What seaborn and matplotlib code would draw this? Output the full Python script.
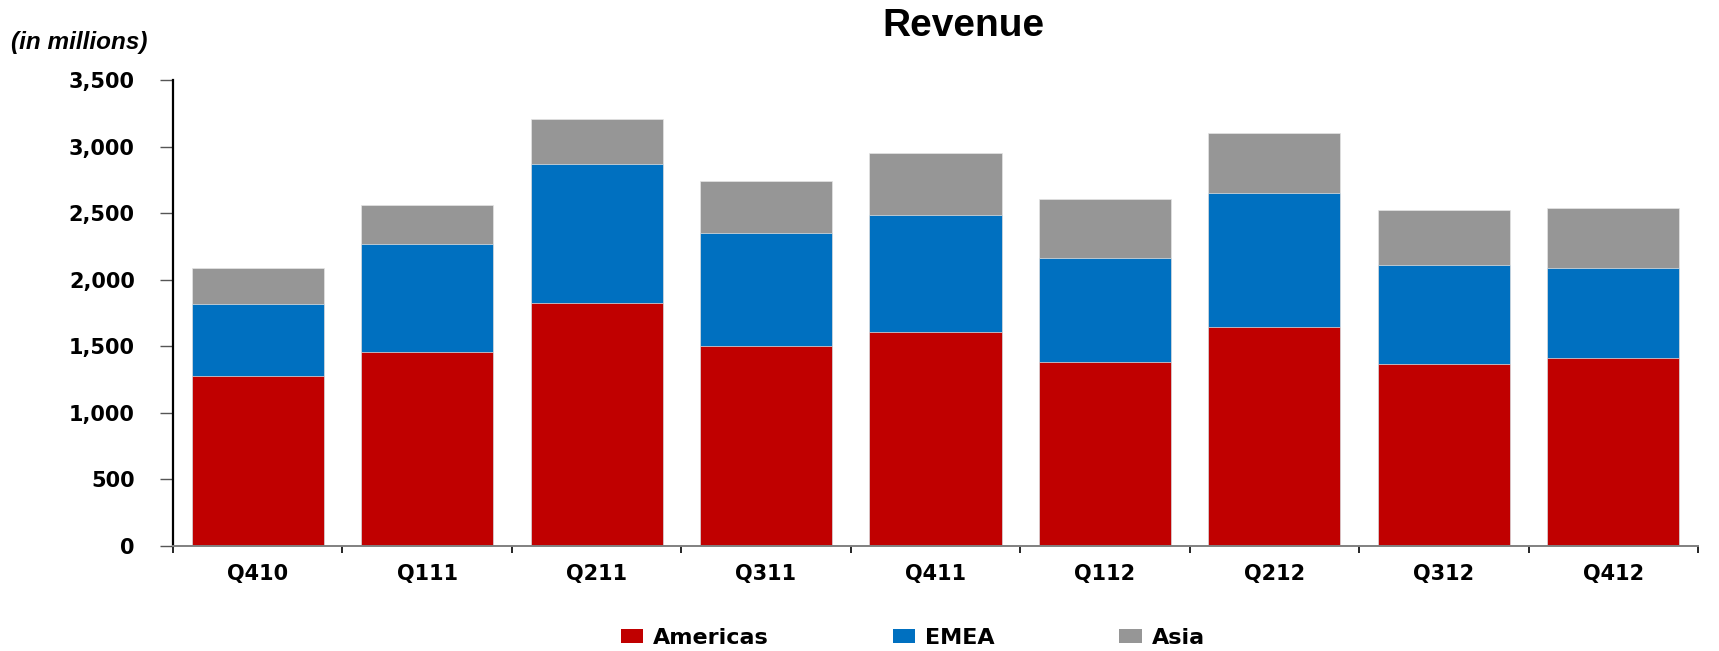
import numpy as np
import pandas as pd
import matplotlib
matplotlib.use("Agg")
import matplotlib.pyplot as plt
from matplotlib.patches import Patch
from matplotlib.ticker import FuncFormatter, FixedLocator
import seaborn as sns

quarters = ["Q410", "Q111", "Q211", "Q311", "Q411", "Q112", "Q212", "Q312", "Q412"]
americas = [1279, 1455, 1823, 1505, 1610, 1385, 1643, 1370, 1415]
emea = [539, 812, 1045, 849, 879, 781, 1011, 743, 676]
asia = [268, 295, 338, 391, 466, 441, 447, 409, 451]
series_names = ["Americas", "EMEA", "Asia"]
colors = ["#C00000", "#0070C0", "#969696"]
yticks = [0, 500, 1000, 1500, 2000, 2500, 3000, 3500]

sns.set_theme(style="white")
plt.rcParams["font.family"] = ["DejaVu Sans"]
plt.rcParams["text.color"] = "black"
plt.rcParams["xtick.color"] = "black"
plt.rcParams["ytick.color"] = "black"

df = pd.DataFrame({"quarter": quarters, "Americas": americas, "EMEA": emea, "Asia": asia})
df["lvl1"] = df["Americas"]
df["lvl2"] = df["Americas"] + df["EMEA"]
df["lvl3"] = df["lvl2"] + df["Asia"]

fig = plt.figure(figsize=(17.19, 6.51), dpi=100)
ax = fig.add_axes([173 / 1719, 1 - 546 / 651, (1698 - 173) / 1719, (546 - 80) / 651])

edge = "#e4e4e4"
sns.barplot(data=df, x="quarter", y="lvl3", color=colors[2], saturation=1, width=0.78,
            edgecolor=edge, linewidth=0.5, ax=ax)
sns.barplot(data=df, x="quarter", y="lvl2", color=colors[1], saturation=1, width=0.78,
            edgecolor=edge, linewidth=0.5, ax=ax)
sns.barplot(data=df, x="quarter", y="lvl1", color=colors[0], saturation=1, width=0.78,
            edgecolor=edge, linewidth=0.5, ax=ax)

ax.set_xlim(-0.5, len(quarters) - 0.5)
ax.set_ylim(0, 3500)
ax.set_xlabel("")
ax.set_ylabel("")

ax.yaxis.set_major_locator(FixedLocator(yticks))
ax.yaxis.set_major_formatter(FuncFormatter(lambda v, p: f"{int(v):,}"))

# x ticks at category boundaries
ax.set_xticks(np.arange(len(quarters)))
ax.set_xticklabels(quarters)
ax.set_xticks(np.arange(-0.5, len(quarters) + 0.5, 1), minor=True)
ax.tick_params(axis="x", which="both", bottom=True)
ax.tick_params(axis="x", which="major", length=0, pad=13)
ax.tick_params(axis="x", which="minor", length=5, width=1.2, color="black", direction="out")
ax.tick_params(axis="y", which="major", left=True, length=9.5, width=1.0, color="#555555",
               direction="out", pad=18)

for lab in ax.get_xticklabels() + ax.get_yticklabels():
    lab.set_fontsize(15)
    lab.set_fontweight("bold")
    lab.set_color("black")

for s in ["top", "right"]:
    ax.spines[s].set_visible(False)
ax.spines["left"].set_color("black")
ax.spines["left"].set_linewidth(1.6)
ax.spines["bottom"].set_color("#808080")
ax.spines["bottom"].set_linewidth(1.4)
ax.spines["left"].set_zorder(5)
ax.spines["bottom"].set_zorder(5)
ax.grid(False)

fig.text(963 / 1719, 1 - 26 / 651, "Revenue", ha="center", va="center", color="black",
         fontsize=28, fontweight="bold", family=["Liberation Sans", "DejaVu Sans"])
fig.text(11 / 1719, 1 - 42 / 651, "(in millions)", ha="left", va="center", color="black",
         fontsize=17.5, fontweight="bold", fontstyle="italic", family=["Liberation Sans", "DejaVu Sans"])

handles = [Patch(facecolor=c, edgecolor="none", label=n) for c, n in zip(colors, series_names)]
leg = fig.legend(handles=handles, loc="center", bbox_to_anchor=(0.531, 1 - 638 / 651), ncol=3,
                 frameon=False, fontsize=16, handlelength=1.0, handleheight=0.62,
                 handletextpad=0.45, columnspacing=5.6, borderaxespad=0)
for t in leg.get_texts():
    t.set_fontweight("bold")
    t.set_color("black")

fig.savefig("out.png", dpi=100)
